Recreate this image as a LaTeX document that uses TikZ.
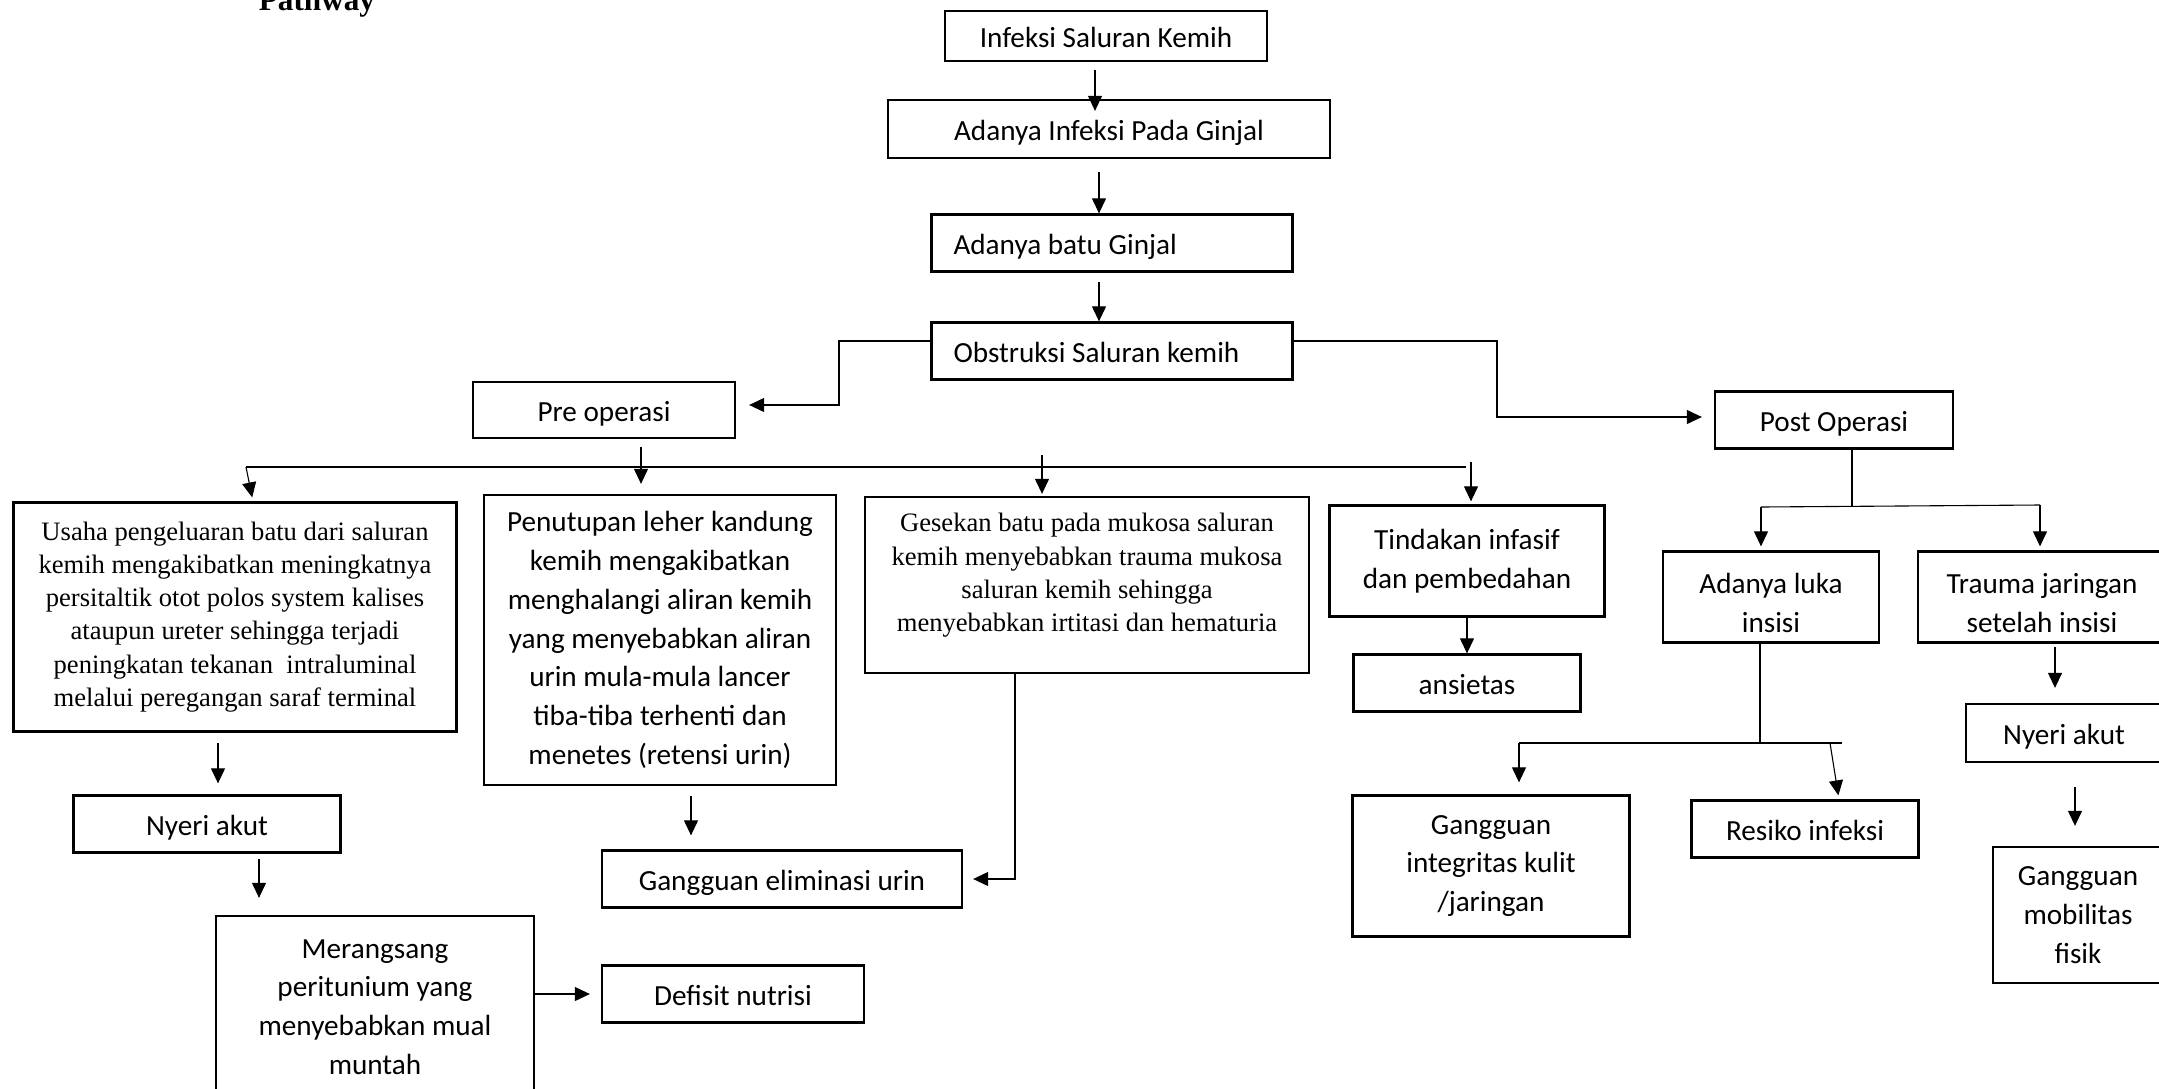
\documentclass[tikz,border=0pt]{standalone}
\usepackage{fontspec}
\setmainfont{Carlito}
\newfontfamily\timesfont{Liberation Serif}
\usepackage{tikz}
\usetikzlibrary{arrows.meta}
\newcommand{\calsize}{\fontsize{14.6}{19.4}\selectfont}
\newcommand{\timessize}{\timesfont\fontsize{13.3}{16.6}\selectfont}

\begin{document}
\begin{tikzpicture}[x=0.5pt,y=-0.5pt,line width=0.55pt,
    box/.style={draw, line width=1.15pt, inner sep=0pt, align=center, font=\calsize},
    one/.style={box, text height=11pt, text depth=0pt},
    tbox/.style={box, font=\timessize},
    lbox/.style={one, align=flush left, text width=158.5pt, inner xsep=11pt},
    arr/.style={-{Triangle[length=7.5pt,width=7pt]}}]
    \useasboundingbox (0,0) rectangle (2159,1088);
    \node[font=\timesfont\bfseries\fontsize{15.6}{18}\selectfont, anchor=base] (title) at (317,10) {Pathway};

    % main column
    \node[one, minimum width=161pt, minimum height=25pt] (A) at (1106,36) {Infeksi Saluran Kemih};
    \node[one, minimum width=221pt, minimum height=29pt] (B) at (1109,129) {Adanya Infeksi Pada Ginjal};
    \node[lbox, minimum height=28.5pt] (C) at (1112,243) {Adanya batu Ginjal};
    \node[lbox, minimum height=28.5pt] (D) at (1112,351) {Obstruksi Saluran kemih};
    \node[one, minimum width=131pt, minimum height=28pt] (E) at (604,410) {Pre operasi};
    \node[one, minimum width=119pt, minimum height=28.5pt] (F) at (1834,420) {Post Operasi};

    % pre operasi
    \node[tbox, minimum width=221.5pt, minimum height=114.5pt] (G) at (235,617) {Usaha pengeluaran batu dari saluran\\kemih mengakibatkan meningkatnya\\persitaltik otot polos system kalises\\ataupun ureter sehingga terjadi\\peningkatan tekanan~ intraluminal\\melalui peregangan saraf terminal};
    \node[box, minimum width=176pt, minimum height=145pt] (H) at (660,640) {Penutupan leher kandung\\kemih mengakibatkan\\menghalangi aliran kemih\\yang menyebabkan aliran\\urin mula-mula lancer\\tiba-tiba terhenti dan\\menetes (retensi urin)};
    \node[tbox, text depth=12.5pt, minimum width=222pt, minimum height=88pt] (I) at (1087,585) {Gesekan batu pada mukosa saluran\\kemih menyebabkan trauma mukosa\\saluran kemih sehingga\\menyebabkan irtitasi dan hematuria};
    \node[box, minimum width=137.5pt, minimum height=55.5pt] (J) at (1467,561) {Tindakan infasif\\dan pembedahan};
    \node[one, minimum width=113.5pt, minimum height=28.5pt] (K) at (1467,683) {ansietas};
    \node[one, minimum width=133.5pt, minimum height=28.5pt] (R) at (207,824) {Nyeri akut};
    \node[box, minimum width=159pt, minimum height=91pt] (S) at (375,1007) {Merangsang\\peritunium yang\\menyebabkan mual\\muntah};
    \node[one, minimum width=131pt, minimum height=28.5pt] (T) at (733,994) {Defisit nutrisi};
    \node[one, minimum width=180pt, minimum height=28.5pt] (U) at (782,879) {Gangguan eliminasi urin};

    % post operasi
    \node[box, text height=35pt, text depth=0pt, minimum width=108pt, minimum height=45.5pt] (L) at (1771,597) {Adanya luka\\insisi};
    \node[box, text height=35pt, text depth=0pt, minimum width=124pt, minimum height=45.5pt] (M) at (2042,597) {Trauma jaringan\\setelah insisi};
    \node[one, minimum width=98pt, minimum height=29pt] (N) at (2064,733) {Nyeri akut};
    \node[box, minimum width=85pt, minimum height=68pt] (O) at (2078,915) {Gangguan\\mobilitas\\fisik};
    \node[one, minimum width=113.5pt, minimum height=28.5pt] (P) at (1805,829) {Resiko infeksi};
    \node[box, minimum width=138.5pt, minimum height=70.5pt] (Q) at (1491,866) {Gangguan\\integritas kulit\\/jaringan};

    % branch points
    \coordinate (p1) at (1095,70);
    \coordinate (p2) at (1099,172);
    \coordinate (p3) at (1099,282);
    \coordinate (k1) at (839,405);
    \coordinate (k2) at (1497,417);
    \coordinate (q0) at (246,467);
    \coordinate (q1) at (1466,467);
    \coordinate (p4) at (641,447);
    \coordinate (p5) at (1042,455);
    \coordinate (p6) at (1471,462);
    \coordinate (p7) at (691,796);
    \coordinate (k3) at (1015,885);
    \coordinate (g0) at (218,743);
    \coordinate (r0) at (259,859);
    \coordinate (f0) at (1852,507);
    \coordinate (f1) at (1761,507);
    \coordinate (f2) at (2040,505);
    \coordinate (l0) at (1760,743);
    \coordinate (l1) at (1519,743);
    \coordinate (l2) at (1842,743);
    \coordinate (l3) at (1830,743);
    \coordinate (m0) at (2055,647);
    \coordinate (n0) at (2075,787);

    \draw[arr, shorten >=-6pt] (p1) -- (p1 |- B.north);
    \draw[arr] (p2) -- (p2 |- C.north);
    \draw[arr] (p3) -- (p3 |- D.north);
    \draw[arr, shorten >=6.5pt] ([yshift=5pt]D.west) -| (k1) -- ([yshift=2.5pt]E.east);
    \draw[arr, shorten >=6pt] ([yshift=5pt]D.east) -| (k2) -- ([yshift=1.5pt]F.west);

    \draw (q0) -- (q1);
    \draw[arr, shorten >=2pt] (q0) -- ([xshift=9pt]G.north);
    \draw[arr, shorten >=5pt] (p4) -- (p4 |- H.north);
    \draw[arr, shorten >=1pt] (p5) -- (p5 |- I.north);
    \draw[arr, shorten >=1.5pt] (p6) -- (p6 |- J.north);
    \draw[arr] (J) -- (K);
    \draw[arr, shorten >=5.5pt] (g0) -- (g0 |- R.north);
    \draw[arr, shorten >=8.5pt] (r0) -- (r0 |- S.north);
    \draw[arr, shorten >=5.5pt] (S.east |- T) -- (T.west);
    \draw[arr, shorten >=7pt] (p7) -- (p7 |- U.north);
    \draw[arr, shorten >=5pt] (k3 |- I.south) |- (U.east);

    \draw (f0 |- F.south) -- (f0);
    \draw (f1) -- (f2);
    \draw[arr, shorten >=2pt] (f1) -- (f1 |- L.north);
    \draw[arr, shorten >=2pt] (f2) -- (f2 |- M.north);
    \draw (l0 |- L.south) -- (l0);
    \draw (l1) -- (l2);
    \draw[arr, shorten >=6pt] (l1) -- (l1 |- Q.north);
    \draw[arr, shorten >=2pt] (l3) -- ([xshift=17pt]P.north);
    \draw[arr, shorten >=7.5pt] (m0) -- (m0 |- N.north);
    \draw[arr, shorten >=10pt] (n0) -- (n0 |- O.north);
\end{tikzpicture}
\end{document}
